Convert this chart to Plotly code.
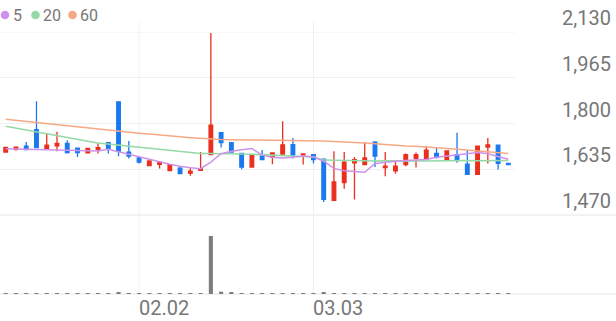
import plotly.graph_objects as go

# ---------------- data ----------------
idx = list(range(50))
open_ = [1697, 1708, 1718, 1778, 1710, 1719, 1728, 1711, 1694, 1707,
         1731, 1878, 1697, 1676, 1648, 1653, 1630, 1639, 1621, 1631,
         1688, 1767, 1731, 1692, 1643, 1683, 1678, 1690, 1724, 1687,
         1688, 1671, 1523, 1587, 1658, 1652, 1733, 1641, 1629, 1652,
         1674, 1671, 1692, 1667, 1688, 1653, 1617, 1715, 1722, 1656]
high_ = [1714, 1715, 1733, 1880, 1766, 1770, 1740, 1711, 1710, 1728,
         1731, 1880, 1737, 1679, 1665, 1661, 1652, 1646, 1640, 1697,
         2126, 1767, 1731, 1692, 1688, 1704, 1694, 1808, 1748, 1690,
         1688, 1671, 1700, 1697, 1679, 1733, 1736, 1697, 1661, 1692,
         1695, 1718, 1712, 1703, 1767, 1704, 1718, 1748, 1722, 1656]
low_ = [1697, 1702, 1704, 1713, 1708, 1700, 1692, 1679, 1694, 1692,
        1692, 1682, 1674, 1656, 1648, 1638, 1630, 1619, 1612, 1631,
        1688, 1713, 1697, 1635, 1643, 1670, 1653, 1690, 1674, 1652,
        1656, 1517, 1523, 1565, 1526, 1650, 1643, 1610, 1619, 1646,
        1641, 1671, 1674, 1667, 1658, 1617, 1617, 1656, 1634, 1652]
close_ = [1714, 1715, 1706, 1713, 1722, 1728, 1695, 1695, 1710, 1713,
          1710, 1700, 1682, 1661, 1665, 1661, 1652, 1619, 1628, 1636,
          1794, 1731, 1697, 1643, 1686, 1670, 1694, 1723, 1686, 1690,
          1670, 1526, 1589, 1661, 1670, 1676, 1682, 1646, 1646, 1688,
          1688, 1704, 1679, 1701, 1667, 1617, 1718, 1723, 1656, 1652]

ma5 = [1709, 1708, 1708, 1707, 1707, 1706, 1705, 1704, 1702, 1701,
       1707, 1698, 1687, 1678, 1669, 1662, 1653, 1646, 1640, 1637,
       1661, 1691, 1700, 1705, 1710, 1686, 1678, 1676, 1678, 1683,
       1680, 1664, 1638, 1630, 1626, 1624, 1656, 1661, 1664, 1667,
       1669, 1670, 1678, 1682, 1687, 1691, 1695, 1691, 1682, 1671]
ma20 = [1790, 1783, 1776, 1770, 1763, 1756, 1749, 1742, 1736, 1730,
        1726, 1722, 1719, 1715, 1712, 1708, 1704, 1700, 1696, 1692,
        1692, 1692, 1691, 1690, 1689, 1687, 1685, 1683, 1681, 1680,
        1679, 1668, 1667, 1666, 1666, 1665, 1665, 1666, 1665, 1664,
        1665, 1665, 1666, 1666, 1667, 1667, 1666, 1667, 1668, 1667]
ma60 = [1815, 1811, 1807, 1803, 1799, 1795, 1791, 1788, 1784, 1780,
        1776, 1772, 1768, 1765, 1762, 1758, 1755, 1752, 1749, 1746,
        1744, 1742, 1741, 1741, 1740, 1740, 1740, 1739, 1739, 1738,
        1738, 1737, 1735, 1734, 1732, 1730, 1727, 1724, 1720, 1719,
        1718, 1716, 1713, 1710, 1707, 1704, 1701, 1698, 1695, 1692]

volume = [10, 12, 14, 25, 18, 20, 16, 18, 15, 17,
          20, 28, 22, 18, 16, 15, 17, 16, 18, 24,
          1500, 60, 30, 20, 18, 16, 18, 24, 20, 18,
          17, 28, 22, 20, 18, 19, 20, 16, 15, 17,
          18, 19, 16, 17, 22, 20, 25, 18, 16, 12]

price_ticks = [1470, 1635, 1800, 1965, 2130]
price_tick_text = ["1,470", "1,635", "1,800", "1,965", "2,130"]
date_tick_idx = [13, 30]
date_tick_text = ["02.02", "03.03"]
legend_names = ["5", "20", "60"]

# ---------------- style ----------------
RED = "#ea2f1f"
BLUE = "#1a78f0"
C5, C20, C60 = "#cf92ea", "#94d9a6", "#f7a884"
GRID = "#f0f0f0"
TXT = "#777777"
FONT = "Roboto"

W, H = 616, 321
ML, MR, MT, MB = 0, 101, 32, 27
PW, PH = W - ML - MR, H - MT - MB


def px(x):
    return (x - ML) / PW


def py(y):
    return (H - MB - y) / PH


fig = go.Figure()
for vals, col in [(ma60, C60), (ma20, C20), (ma5, C5)]:
    fig.add_trace(go.Scatter(x=idx, y=vals, mode="lines",
                             line=dict(color=col, width=1.5),
                             hoverinfo="skip", showlegend=False))

fig.add_trace(go.Candlestick(
    x=idx, open=open_, high=high_, low=low_, close=close_,
    increasing=dict(line=dict(color=RED, width=1.3), fillcolor=RED),
    decreasing=dict(line=dict(color=BLUE, width=1.3), fillcolor=BLUE),
    showlegend=False))

fig.add_trace(go.Bar(x=idx, y=volume, yaxis="y2", marker_color="#7d7d7d",
                     marker_line_width=0, width=0.4, showlegend=False))

vol_top = py(228)
fig.update_layout(
    width=W, height=H, margin=dict(l=ML, r=MR, t=MT, b=MB),
    paper_bgcolor="white", plot_bgcolor="white",
    boxgap=0.5, showlegend=False,
    xaxis=dict(range=[-0.556, 49.65], showgrid=False, showticklabels=False,
               zeroline=False, showline=False, anchor="y2",
               rangeslider=dict(visible=False)),
    yaxis=dict(domain=[py(215), 1], range=[1470, 2130],
               tickvals=price_ticks[1:], gridcolor=GRID, gridwidth=1,
               showticklabels=False, zeroline=False, showline=False),
    yaxis2=dict(domain=[0, vol_top], range=[0, max(volume) * 66 / 58],
                showgrid=False, showticklabels=False, zeroline=False,
                showline=False),
)

shapes = []
# top gridline (range edge)
shapes.append(dict(type="line", xref="paper", yref="y", x0=0, x1=1,
                   y0=price_ticks[-1], y1=price_ticks[-1],
                   line=dict(color=GRID, width=1), layer="below"))
# full-width separator lines
shapes.append(dict(type="line", xref="paper", yref="paper", x0=px(0), x1=px(W),
                   y0=py(215), y1=py(215), line=dict(color="#e6e6e6", width=1),
                   layer="below"))
shapes.append(dict(type="line", xref="paper", yref="paper", x0=px(0), x1=px(W),
                   y0=py(294), y1=py(294), line=dict(color="#e6e6e6", width=1),
                   layer="below"))
for xi in date_tick_idx:
    shapes.append(dict(type="line", xref="x", yref="paper", x0=xi, x1=xi,
                       y0=py(294), y1=py(22), line=dict(color=GRID, width=1),
                       layer="below"))
# legend dots
dot_cx = [5, 35.5, 72.5]
for cx, col in zip(dot_cx, [C5, C20, C60]):
    shapes.append(dict(type="circle", xref="paper", yref="paper",
                       x0=px(cx - 4.3), x1=px(cx + 4.3),
                       y0=py(15 + 4.3), y1=py(15 - 4.3),
                       fillcolor=col, line=dict(width=0)))

annotations = []
for v, t in zip(price_ticks, price_tick_text):
    annotations.append(dict(xref="paper", yref="y", x=px(613), y=v,
                            xanchor="right", yanchor="middle", yshift=14,
                            text=t, showarrow=False,
                            font=dict(family=FONT, size=20, color=TXT)))
for xi, t in zip(date_tick_idx, date_tick_text):
    annotations.append(dict(xref="x", yref="paper", x=xi, y=py(308),
                            xanchor="left", yanchor="middle", xshift=-2,
                            text=t, showarrow=False,
                            font=dict(family=FONT, size=20, color=TXT)))
text_x = [10.5, 40.5, 78]
for tx, t in zip(text_x, legend_names):
    annotations.append(dict(xref="paper", yref="paper", x=px(tx), y=py(15.5),
                            xanchor="left", yanchor="middle", text=t,
                            showarrow=False,
                            font=dict(family=FONT, size=16, color=TXT)))

fig.update_layout(shapes=shapes, annotations=annotations)
fig.write_html("out.html")
